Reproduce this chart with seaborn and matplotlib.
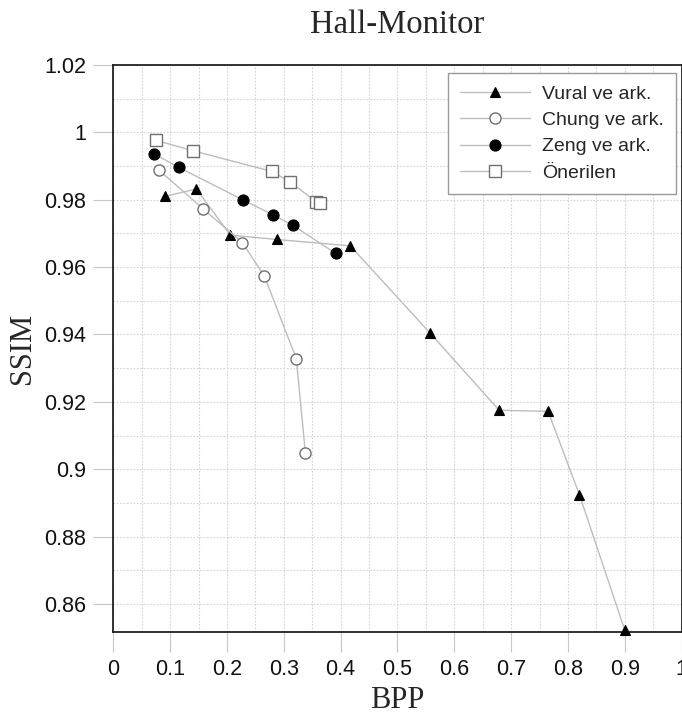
import matplotlib
matplotlib.use("Agg")
import matplotlib.pyplot as plt
import seaborn as sns
import pandas as pd
from matplotlib.ticker import MultipleLocator, FuncFormatter

# Data
vural_bpp = [0.091, 0.146, 0.206, 0.288, 0.417, 0.557, 0.679, 0.765, 0.820, 0.900]
vural_ssim = [0.9810, 0.9832, 0.9695, 0.9682, 0.9663, 0.9405, 0.9175, 0.9172, 0.8925, 0.8522]
chung_bpp = [0.081, 0.158, 0.227, 0.266, 0.322, 0.338]
chung_ssim = [0.9887, 0.9773, 0.9673, 0.9573, 0.9328, 0.9048]
zeng_bpp = [0.072, 0.115, 0.229, 0.281, 0.316, 0.391]
zeng_ssim = [0.9936, 0.9896, 0.9799, 0.9755, 0.9724, 0.9641]
oner_bpp = [0.076, 0.141, 0.279, 0.311, 0.357, 0.364]
oner_ssim = [0.9976, 0.9945, 0.9884, 0.9853, 0.9794, 0.9789]
series_names = ["Vural ve ark.", "Chung ve ark.", "Zeng ve ark.", "Önerilen"]
title_text = "Hall-Monitor"
x_label = "BPP"
y_label = "SSIM"

sns.set_style("white")
plt.rcParams["font.family"] = ["Liberation Sans", "DejaVu Sans"]

fig = plt.figure(figsize=(6.82, 7.18), dpi=100)
ax = fig.add_axes([0.1661, 0.1198, 0.8334, 0.7897])

line_col = "#bdbdbd"
styles = [
    dict(marker="^", markerfacecolor="black", markeredgecolor="black", markersize=7, markeredgewidth=0.8),
    dict(marker="o", markerfacecolor="white", markeredgecolor="#707070", markersize=8, markeredgewidth=1.0),
    dict(marker="o", markerfacecolor="black", markeredgecolor="black", markersize=8, markeredgewidth=0.8),
    dict(marker="s", markerfacecolor="white", markeredgecolor="#707070", markersize=8, markeredgewidth=1.0),
]
xs = [vural_bpp, chung_bpp, zeng_bpp, oner_bpp]
ys = [vural_ssim, chung_ssim, zeng_ssim, oner_ssim]
for name, x, y, st in zip(series_names, xs, ys, styles):
    df = pd.DataFrame({"bpp": x, "ssim": y})
    sns.lineplot(data=df, x="bpp", y="ssim", ax=ax, sort=False, color=line_col,
                 linewidth=1.0, label=name, clip_on=False, zorder=3, **st)

ax.set_xlim(0, 1)
ax.set_ylim(0.8517, 1.02)
ax.xaxis.set_major_locator(MultipleLocator(0.1))
ax.xaxis.set_minor_locator(MultipleLocator(0.05))
ax.yaxis.set_major_locator(MultipleLocator(0.02))
ax.yaxis.set_minor_locator(MultipleLocator(0.01))

def fmt(v, pos):
    s = f"{v:.2f}".rstrip("0").rstrip(".")
    return s
ax.xaxis.set_major_formatter(FuncFormatter(fmt))
ax.yaxis.set_major_formatter(FuncFormatter(fmt))

ax.grid(True, which="both", linestyle=(0, (1.5, 1.5)), color="#d4d4d4", linewidth=0.8)
ax.set_axisbelow(True)
ax.tick_params(axis="both", which="major", direction="out", length=14.5, width=0.8,
               color="#c8c8c8", labelsize=15.5, pad=5, labelcolor="#111111",
               bottom=True, left=True)
ax.tick_params(axis="both", which="minor", length=0)

for sp in ax.spines.values():
    sp.set_color("#222222")
    sp.set_linewidth(1.3)

serif = ["Liberation Serif", "DejaVu Serif"]
ax.set_title(title_text, family=serif, fontsize=23.5, pad=23)
ax.set_xlabel(x_label, family=serif, fontsize=22, labelpad=4)
ax.set_ylabel(y_label, family=serif, fontsize=22, labelpad=5)

leg = ax.legend(loc="upper right", bbox_to_anchor=(0.9895, 0.985), fontsize=14,
                frameon=True, fancybox=False, edgecolor="#999999", framealpha=1,
                handlelength=3.6, handletextpad=0.65, labelspacing=0.45,
                borderpad=0.6, borderaxespad=0)
leg.get_frame().set_linewidth(1.0)

fig.savefig("out.png", dpi=100)
